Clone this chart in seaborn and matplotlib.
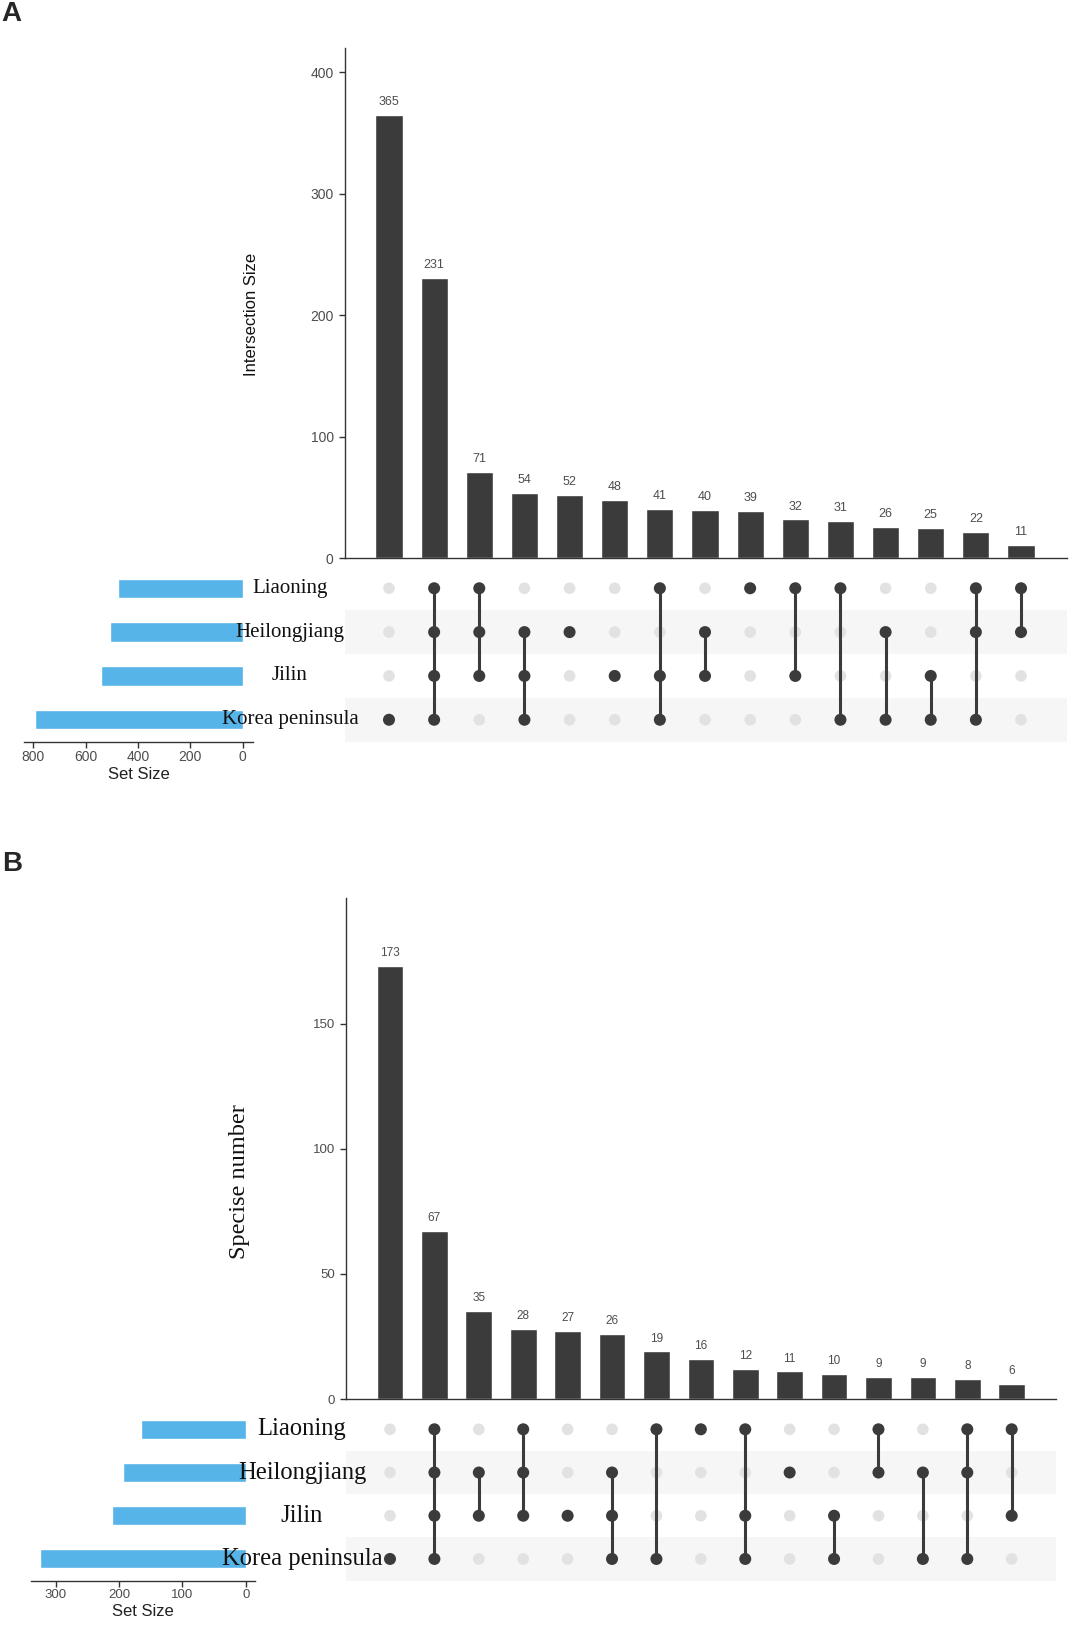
import pandas as pd
import seaborn as sns
import matplotlib.pyplot as plt
from matplotlib import transforms

sns.set_theme(style="white")
plt.rcParams["font.family"] = ["Liberation Sans", "DejaVu Sans"]

# sets, top row first
sets = ["Liaoning", "Heilongjiang", "Jilin", "Korea peninsula"]
set_codes = ["L", "H", "J", "K"]

# panel A
a_combos = ["K", "LHJK", "LHJ", "HJK", "H", "J", "LJK", "HJ", "L", "LJ", "LK", "HK", "JK", "LHK", "LH"]
a_counts = [365, 231, 71, 54, 52, 48, 41, 40, 39, 32, 31, 26, 25, 22, 11]
a_set_sizes = [478, 507, 542, 795]

# panel B
b_combos = ["K", "LHJK", "HJ", "LHJ", "J", "HJK", "LK", "L", "LJK", "H", "JK", "LH", "HK", "LHK", "LJ"]
b_counts = [173, 67, 35, 28, 27, 26, 19, 16, 12, 11, 10, 9, 9, 8, 6]
b_set_sizes = [165, 193, 211, 324]

BAR = "#3b3b3b"
BLUE = "#56b4e9"
OFF = "#e2e2e2"
BAND = "#f6f6f6"
TXT = "#4d4d4d"

fig = plt.figure(figsize=(10.76, 16.34), dpi=100)


def draw_panel(rect_bar, rect_mat, rect_set, combos, counts, set_sizes, xlim,
               ylim, yticks, ylabel, ylabel_font, ylabel_pos,
               set_xlim, set_xticks, name_x, name_size, tick_size, count_size):
    # intersection bars
    ax_bar = fig.add_axes(rect_bar)
    df = pd.DataFrame({"combo": combos, "count": counts})
    sns.barplot(data=df, x="combo", y="count", color=BAR, width=0.6,
                saturation=1, ax=ax_bar)
    ax_bar.bar_label(ax_bar.containers[0], padding=5, fontsize=count_size, color=TXT)
    ax_bar.set_xlim(xlim)
    ax_bar.set_ylim(ylim)
    ax_bar.set_yticks(yticks)
    ax_bar.set_xticks([])
    ax_bar.set_xlabel("")
    ax_bar.set_ylabel(ylabel, **ylabel_font)
    ax_bar.yaxis.set_label_coords(*ylabel_pos)
    ax_bar.tick_params(axis="y", left=True, length=4, width=1, color="#333333",
                       labelsize=tick_size, labelcolor=TXT, pad=4)
    sns.despine(ax=ax_bar)
    for s in ["left", "bottom"]:
        ax_bar.spines[s].set_color("#333333")
        ax_bar.spines[s].set_linewidth(1)

    # membership matrix
    ax_mat = fig.add_axes(rect_mat)
    for r in (1, 3):
        ax_mat.axhspan(r - 0.5, r + 0.5, color=BAND, zorder=0, lw=0)
    rows = []
    for j, combo in enumerate(combos):
        for i, code in enumerate(set_codes):
            rows.append({"col": j, "row": i, "member": code in combo})
    mdf = pd.DataFrame(rows)
    sns.scatterplot(data=mdf[~mdf.member], x="col", y="row", color=OFF, s=70,
                    edgecolor="none", legend=False, zorder=2, ax=ax_mat)
    for j, combo in enumerate(combos):
        on = mdf[(mdf.col == j) & mdf.member]["row"]
        if len(on) > 1:
            ax_mat.plot([j, j], [on.min(), on.max()], color=BAR, lw=2.2, zorder=3)
    sns.scatterplot(data=mdf[mdf.member], x="col", y="row", color=BAR, s=75,
                    edgecolor="none", legend=False, zorder=4, ax=ax_mat)
    ax_mat.set_xlim(xlim)
    ax_mat.set_ylim(3.5, -0.5)
    ax_mat.axis("off")

    # set size bars
    ax_set = fig.add_axes(rect_set)
    sdf = pd.DataFrame({"set": sets, "size": set_sizes})
    sns.barplot(data=sdf, x="size", y="set", orient="h", color=BLUE, width=0.44,
                saturation=1, ax=ax_set)
    ax_set.set_xlim(set_xlim)
    ax_set.set_ylim(3.5, -0.5)
    ax_set.set_xticks(set_xticks)
    ax_set.set_yticks([])
    ax_set.set_ylabel("")
    ax_set.set_xlabel("Set Size", fontsize=12, color="#222222", labelpad=2)
    ax_set.tick_params(axis="x", bottom=True, length=4, width=1, color="#333333",
                       labelsize=tick_size, labelcolor=TXT, pad=2)
    for s in ["left", "top", "right"]:
        ax_set.spines[s].set_visible(False)
    ax_set.spines["bottom"].set_color("#333333")
    ax_set.spines["bottom"].set_linewidth(1)

    # set names
    tr = transforms.blended_transform_factory(fig.transFigure, ax_mat.transData)
    for i, name in enumerate(sets):
        fig.text(name_x, i, name, transform=tr, ha="center", va="center",
                 fontsize=name_size, color="#111111",
                 family=["Liberation Serif", "DejaVu Serif"], zorder=10)


draw_panel([0.3204, 0.6583, 0.6713, 0.3123], [0.3204, 0.5461, 0.6713, 0.1073],
           [0.0223, 0.5461, 0.2128, 0.1073], a_combos, a_counts, a_set_sizes,
           (-0.98, 15.02), (0, 420), [0, 100, 200, 300, 400], "Intersection Size",
           {"fontsize": 12, "color": "#111111"}, (-0.1187, 0.477),
           (836, -39), [800, 600, 400, 200, 0], 0.2695, 15, 10, 9)

draw_panel([0.3216, 0.1438, 0.6599, 0.3064], [0.3216, 0.0327, 0.6599, 0.1058],
           [0.0285, 0.0327, 0.2085, 0.1058], b_combos, b_counts, b_set_sizes,
           (-0.99, 15.0), (0, 200), [0, 50, 100, 150], "Specise number",
           {"fontsize": 17.5, "color": "#111111",
            "family": ["Liberation Serif", "DejaVu Serif"]}, (-0.135, 0.434),
           (339.5, -14.7), [300, 200, 100, 0], 0.2807, 17.7, 9.5, 8.5)

fig.text(0.001, 0.9914, "A", fontsize=20, fontweight="bold", ha="left", va="center")
fig.text(0.002, 0.4712, "B", fontsize=20, fontweight="bold", ha="left", va="center")

fig.savefig("out.png", dpi=100)
